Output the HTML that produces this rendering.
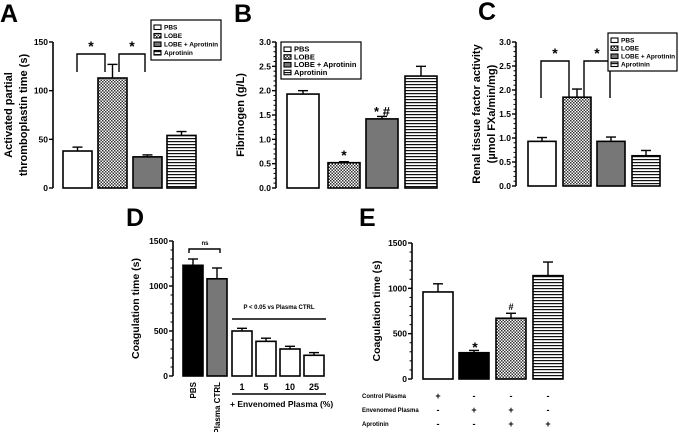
<!DOCTYPE html>
<html><head><meta charset="utf-8"><style>
html,body{margin:0;padding:0;background:#fff;}
svg{display:block;font-family:"Liberation Sans",Arial,sans-serif;font-weight:bold;}
</style></head><body>
<svg id="fig" width="679" height="432" viewBox="0 0 679 432" xmlns="http://www.w3.org/2000/svg">
<defs>
<pattern id="checker" width="3" height="3" patternUnits="userSpaceOnUse"><rect width="3" height="3" fill="#fff"/><rect width="1.5" height="1.5" fill="#333"/><rect x="1.5" y="1.5" width="1.5" height="1.5" fill="#333"/></pattern>
<pattern id="hlines" width="4" height="3" patternUnits="userSpaceOnUse"><rect width="4" height="3" fill="#fff"/><rect width="4" height="1.2" fill="#111"/></pattern>
</defs>
</svg>
<script>
// Panel A
const catsA = ["PBS","LOBE","LOBE + Aprotinin","Aprotinin"];
const valsA = [38,113,32,54];
const errA = [4,14,2,4];
const ticksA = [0,50,100,150];
// Panel B
const valsB = [1.93,0.52,1.42,2.3];
const errB = [0.07,0.02,0.05,0.2];
const ticksB = [0,0.5,1,1.5,2,2.5,3];
// Panel C
const valsC = [0.93,1.85,0.93,0.63];
const errC = [0.08,0.17,0.09,0.11];
const ticksC = [0,0.5,1,1.5,2,2.5,3];
// Panel D
const catsD = ["PBS","Plasma CTRL","1","5","10","25"];
const valsD = [1230,1080,500,385,300,230];
const errD = [70,120,30,35,30,30];
const ticksD = [0,500,1000,1500];
// Panel E
const valsE = [960,290,670,1140];
const errE = [90,25,55,150];
const ticksE = [0,500,1000,1500];
const rowLabelsE = ["Control Plasma","Envenomed Plasma","Aprotinin"];
const signsE = [["+","-","-","-"],["-","+","+","-"],["-","-","+","+"]];

const NS="http://www.w3.org/2000/svg";
const svg=document.getElementById('fig');
function mk(tag,attrs,parent,text){const e=document.createElementNS(NS,tag);for(const k in attrs)e.setAttribute(k,attrs[k]);if(text!==undefined)e.textContent=text;(parent||svg).appendChild(e);return e;}
function grp(name){const g=document.createElementNS(NS,'g');


svg.appendChild(g);return g;}

const fillsABC=["#fff","url(#checker)","#777","url(#hlines)"];

function panel(opt){
  const g=grp(opt.name);
  const y=v=>opt.y0-(v-opt.min)/(opt.max-opt.min)*(opt.y0-opt.y1);
  // axis
  const ax=mk('line',{x1:opt.ax,y1:opt.y1,x2:opt.ax,y2:opt.y0,stroke:'#000','stroke-width':1.6},g);
  
  
  opt.ticks.forEach((t,i)=>{
    mk('line',{x1:opt.ax-4,y1:y(t),x2:opt.ax,y2:y(t),stroke:'#000','stroke-width':1.4},g);
    const tl=mk('text',{x:opt.ax-5,y:y(t)+3,'font-size':8.5,'text-anchor':'end'},g,opt.fmt(t));
    
    
    if(opt.minor && i<opt.ticks.length-1){
      for(let k=1;k<opt.minor;k++){const v=t+(opt.ticks[i+1]-t)*k/opt.minor;
        mk('line',{x1:opt.ax-2.5,y1:y(v),x2:opt.ax,y2:y(v),stroke:'#000','stroke-width':1},g);}
    }
  });
  opt.vals.forEach((v,i)=>{
    const x=opt.bx[i], w=opt.bw, top=y(v);
    const et=y(v+opt.err[i]);
    mk('line',{x1:x+w/2,y1:top,x2:x+w/2,y2:et,stroke:'#000','stroke-width':1.4},g);
    mk('line',{x1:x+w/2-5,y1:et,x2:x+w/2+5,y2:et,stroke:'#000','stroke-width':1.4},g);
    const b=mk('rect',{x:x,y:top,width:w,height:opt.y0-top,fill:opt.fills[i],stroke:'#000','stroke-width':1.6},g);
    
    
  });
  const yt=mk('text',{transform:`translate(${opt.tx},${(opt.y0+opt.y1)/2}) rotate(-90)`,'font-size':opt.tfs||11,'text-anchor':'middle'},g);
  
  
  opt.title.forEach((l,i)=>mk('tspan',{x:0,y:i*15},yt,l));
  const L=mk('text',{x:opt.lx,y:opt.ly,'font-size':25},g,opt.letter);
  
  
  return {g,y};
}
function legend(x,y,w,h,fs){
  const g=grp('legend');
  mk('rect',{x:x,y:y,width:w,height:h,fill:'#fff',stroke:'#000','stroke-width':1.2},g);
  catsA.forEach((c,i)=>{
    const yy=y+4+i*(h-6)/4;
    const sw=mk('rect',{x:x+3,y:yy+1,width:7,height:4.5,fill:fillsABC[i],stroke:'#000','stroke-width':1.1},g);
    const t=mk('text',{x:x+13,y:yy+5.5,'font-size':fs},g,c);
    
    
  });
}
function bracket(g,x1,x2,yTop,yBot,label,fs){
  mk('polyline',{points:`${x1},${yBot} ${x1},${yTop} ${x2},${yTop} ${x2},${yBot}`,fill:'none',stroke:'#000','stroke-width':1.4},g);
  if(label) mk('text',{x:(x1+x2)/2,y:yTop-3,'font-size':fs||14,'text-anchor':'middle'},g,label);
}

// A
const A=panel({name:'panel-a',ax:53,y0:188,y1:42,min:0,max:150,ticks:ticksA,fmt:t=>t,vals:valsA,err:errA,bx:[63,98,133,167],bw:29,fills:fillsABC,tx:12,title:['Activated partial','thromboplastin time (s)'],lx:0,ly:22,letter:'A'});
bracket(A.g,77,105,54,72,'*');bracket(A.g,119,145,54,72,'*');
legend(151,20,70,40,6.5);

// B
const B=panel({name:'panel-b',ax:276,y0:188,y1:42,min:0,max:3,ticks:ticksB,fmt:t=>t.toFixed(1),minor:5,vals:valsB,err:errB,bx:[287,328,366,405],bw:32,fills:fillsABC,tx:244,title:['Fibrinogen (g/L)'],lx:234,ly:22,letter:'B'});
mk('text',{x:344,y:160,'font-size':14,'text-anchor':'middle'},B.g,'*');
mk('text',{x:382,y:116,'font-size':13,'text-anchor':'middle'},B.g,'* #');
legend(281,42,80,37,7.5);

// C
const C=panel({name:'panel-c',ax:516,y0:186,y1:42,min:0,max:3,ticks:ticksC,fmt:t=>t.toFixed(1),minor:5,vals:valsC,err:errC,bx:[528,563,597,632],bw:28,fills:fillsABC,tx:480,title:['Renal tissue factor activity','(µmol FXa/min/mg)'],lx:478,ly:20,letter:'C'});
bracket(C.g,541,569,61,98,'*');bracket(C.g,584,610,61,98,'*');
legend(608,33,69,38,6.5);

// D
const D=panel({name:'panel-d',ax:173,y0:376,y1:241,min:0,max:1500,ticks:ticksD,fmt:t=>t,minor:5,vals:valsD,err:errD,bx:[183,207,232,256,280,304],bw:20,fills:['#000','#777','#fff','#fff','#fff','#fff'],tx:139,tfs:10.5,title:['Coagulation time (s)'],lx:126,ly:226,letter:'D'});
bracket(D.g,189,220,249,253,'');
mk('text',{x:205,y:245,'font-size':6,'text-anchor':'middle'},D.g,'ns');
mk('text',{x:279,y:309,'font-size':6,'text-anchor':'middle'},D.g,'P < 0.05 vs Plasma CTRL');
mk('line',{x1:232,y1:319,x2:326,y2:319,stroke:'#000','stroke-width':1.4},D.g);
catsD.forEach((c,i)=>{const cx=[183,207,232,256,280,304][i]+10;
  if(i<2){mk('text',{transform:`translate(${cx+3},382) rotate(-90)`,'font-size':8,'text-anchor':'end'},D.g,c);}
  else mk('text',{x:cx,y:390,'font-size':9,'text-anchor':'middle'},D.g,c);});
mk('line',{x1:232,y1:394,x2:326,y2:394,stroke:'#000','stroke-width':1.4},D.g);
mk('text',{x:230,y:407,'font-size':8.5},D.g,'+ Envenomed Plasma (%)');

// E
const Ebx=[423,459,496,533];
const E=panel({name:'panel-e',ax:412,y0:379,y1:243,min:0,max:1500,ticks:ticksE,fmt:t=>t,minor:5,vals:valsE,err:errE,bx:Ebx,bw:30,fills:['#fff','#000','url(#checker)','url(#hlines)'],tx:380,tfs:10.5,title:['Coagulation time (s)'],lx:359,ly:226,letter:'E'});
mk('text',{x:475,y:352,'font-size':14,'text-anchor':'middle'},E.g,'*');
mk('text',{x:511,y:310,'font-size':9,'text-anchor':'middle'},E.g,'#');
rowLabelsE.forEach((r,ri)=>{
  mk('text',{x:362,y:398+ri*14,'font-size':6},E.g,r);
  signsE[ri].forEach((s,i)=>mk('text',{x:Ebx[i]+15,y:399+ri*14,'font-size':9,'text-anchor':'middle'},E.g,s));
});
</script>
</body></html>
